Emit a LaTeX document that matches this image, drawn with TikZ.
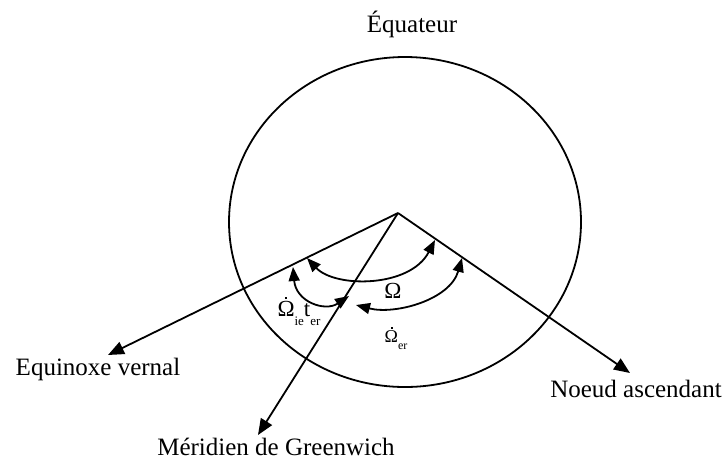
\documentclass[tikz,border=0pt]{standalone}
\usepackage{fontspec}
\setmainfont{Liberation Serif}
\usetikzlibrary{arrows.meta}
\newcommand{\dotabove}{\rlap{\raisebox{0.78em}{\kern0.33em\rule{2.2pt}{2.2pt}}}}
\begin{document}
\begin{tikzpicture}[x=1pt,y=-1pt,line width=1.8pt,
  lab/.style={font=\fontsize{25}{28}\selectfont, inner sep=0pt},
  glab/.style={font=\fontsize{23}{25}\selectfont, inner sep=0pt},
  axis/.style={-{Triangle[length=16pt,width=13pt]}},
  arcarrow/.style={{Triangle[length=14pt,width=11pt]}-{Triangle[length=14pt,width=11pt]}}]
\useasboundingbox (0,0) rectangle (727,467);
% equator
\draw (405,222) ellipse [x radius=176, y radius=165];
% centre and axis ends
\coordinate (O) at (398,213);
\coordinate (EVt) at (108,355);
\coordinate (NAt) at (630,373);
\coordinate (MGt) at (258,435);
\draw[axis] (O) -- (EVt);
\draw[axis] (O) -- (NAt);
\draw[axis] (O) -- (MGt);
% arcs
\coordinate (a1s) at (307,258);
\coordinate (a1e) at (435,240);
\coordinate (a3s) at (293,267);
\coordinate (a3e) at (349,296);
\coordinate (a2s) at (356,305);
\coordinate (a2e) at (462,258);
\draw[arcarrow] (a1s) .. controls (335,288) and (410,288) .. (a1e);
\draw[arcarrow] (a3s) .. controls (296,302) and (325,312) .. (a3e);
\draw[arcarrow] (a2s) .. controls (395,315) and (450,300) .. (a2e);
% labels
\node[lab] (eq) at (412,24) {Équateur};
\node[lab] (ev) at (98,369) {Equinoxe vernal};
\node[lab] (na) at (636,389) {Noeud ascendant};
\node[lab] (mg) at (276,447) {Méridien de Greenwich};
\node[glab] (om) at (393,291) {Ω};
\node[glab] (omie) at (299,311) {\dotabove Ω\raisebox{-0.35em}{\fontsize{13}{13}\selectfont ie}t\raisebox{-0.35em}{\fontsize{13}{13}\selectfont er}};
\node[glab] (omer) at (396,338) {\fontsize{18}{19}\selectfont\dotabove Ω\raisebox{-0.35em}{\fontsize{12}{12}\selectfont er}};
\end{tikzpicture}
\end{document}
